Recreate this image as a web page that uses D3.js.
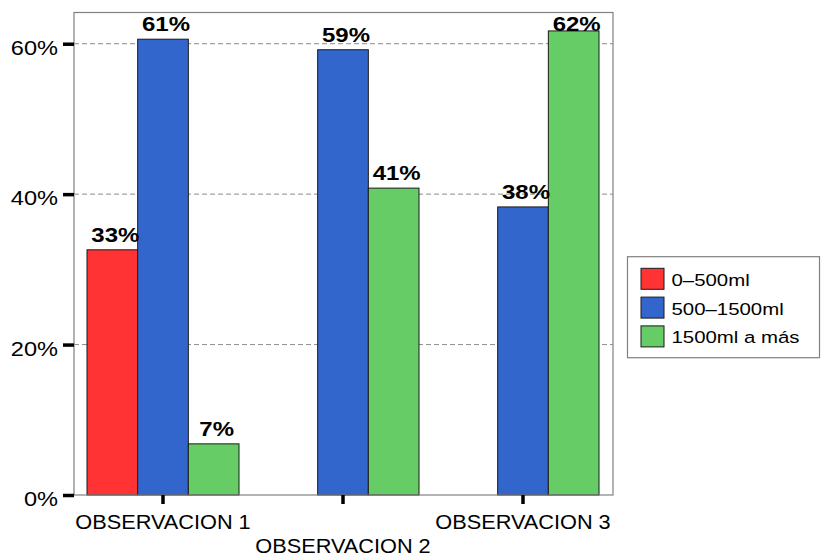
<!DOCTYPE html>
<html>
<head>
<meta charset="utf-8">
<script src="https://cdn.jsdelivr.net/npm/d3@7"></script>
<style>
  html, body { margin: 0; padding: 0; background: #fff; }
  svg { display: block; font-family: "Liberation Sans", Arial, sans-serif; }
</style>
</head>
<body>
<svg id="chart" width="821" height="555"></svg>
<script>
// Observation groups along the x axis
const categories = ["OBSERVACION 1", "OBSERVACION 2", "OBSERVACION 3"];
// Volume ranges (one bar per range in each group)
const seriesNames = ["0–500ml", "500–1500ml", "1500ml a más"];
const seriesColors = ["#FF3333", "#3366CC", "#66CC66"];
// Share of cases per range (null = no bar)
const values0to500 = [0.326, null, null];
const values500to1500 = [0.606, 0.592, 0.383];
const values1500plus = [0.068, 0.408, 0.617];
const seriesValues = [values0to500, values500to1500, values1500plus];
// Y axis ticks
const yTicks = [0, 0.2, 0.4, 0.6];

const svg = d3.select("#chart");
const frame = { left: 74, right: 613, top: 12.5, bottom: 495 };

const x0 = d3.scaleBand().domain(categories).range([frame.left - 1, frame.right]).padding(0);
const x1 = d3.scaleBand().domain(seriesNames).range([14, 166]).padding(0);
const y = d3.scaleLinear().domain([0, 0.6415]).range([frame.bottom, frame.top]);
const pct = d3.format(".0%");

// Dashed gridlines
svg.append("g")
  .selectAll("line")
  .data(yTicks.filter(d => d > 0))
  .join("line")
  .attr("x1", frame.left).attr("x2", frame.right)
  .attr("y1", d => y(d)).attr("y2", d => y(d))
  .attr("stroke", "#8c8c8c")
  .attr("stroke-width", 1)
  .attr("stroke-dasharray", "5,3");

// Bars
const bars = [];
seriesNames.forEach((s, si) => {
  categories.forEach((c, ci) => {
    const v = seriesValues[si][ci];
    if (v != null) bars.push({ series: s, cat: c, value: v, color: seriesColors[si] });
  });
});

svg.append("g")
  .selectAll("rect")
  .data(bars)
  .join("rect")
  .attr("x", d => x0(d.cat) + x1(d.series))
  .attr("y", d => y(d.value))
  .attr("width", x1.bandwidth())
  .attr("height", d => y(0) - y(d.value))
  .attr("fill", d => d.color)
  .attr("stroke", "#1a1a1a")
  .attr("stroke-width", 1);

// Plot frame
svg.append("rect")
  .attr("x", frame.left).attr("y", frame.top)
  .attr("width", frame.right - frame.left)
  .attr("height", frame.bottom - frame.top)
  .attr("fill", "none")
  .attr("stroke", "#808080")
  .attr("stroke-width", 1.2);

// Value labels above bars (kept inside the frame)
const capH = 14.3;
svg.append("g")
  .selectAll("text")
  .data(bars)
  .join("text")
  .attr("transform", d => {
    const cx = x0(d.cat) + x1(d.series) + x1.bandwidth() / 2 + 3;
    const by = Math.max(y(d.value) - 8, frame.top + capH + 4);
    return `translate(${cx},${by}) scale(1.17,1)`;
  })
  .attr("text-anchor", "middle")
  .attr("font-size", 20.5)
  .attr("font-weight", "bold")
  .attr("fill", "#000")
  .text(d => pct(d.value));

// Y axis
const yAxis = svg.append("g")
  .attr("transform", `translate(${frame.left},0)`)
  .call(d3.axisLeft(y).tickValues(yTicks).tickFormat(pct).tickSize(11).tickPadding(0));
yAxis.select(".domain").remove();
yAxis.selectAll(".tick line").attr("stroke", "#000").attr("stroke-width", 3.5);
yAxis.selectAll(".tick text")
  .attr("x", null).attr("dy", null)
  .attr("transform", "translate(-16,10.6) scale(1.15,1)")
  .attr("font-size", 20.5)
  .attr("font-family", "Liberation Sans, Arial, sans-serif")
  .attr("fill", "#000");

// X axis
const xAxis = svg.append("g")
  .attr("transform", `translate(0,${frame.bottom})`)
  .call(d3.axisBottom(x0).tickSize(9).tickPadding(0));
xAxis.select(".domain").remove();
xAxis.selectAll(".tick line").attr("stroke", "#000").attr("stroke-width", 3.5);
xAxis.selectAll(".tick text")
  .attr("y", null).attr("dy", null)
  .attr("transform", (d, i) => `translate(0,${i % 2 === 0 ? 34 : 58}) scale(1.06,1)`)
  .attr("font-size", 20.5)
  .attr("font-family", "Liberation Sans, Arial, sans-serif")
  .attr("fill", "#000");

// Legend
const legend = svg.append("g");
legend.append("rect")
  .attr("x", 627.5).attr("y", 256.7)
  .attr("width", 192).attr("height", 101)
  .attr("fill", "#fff")
  .attr("stroke", "#808080")
  .attr("stroke-width", 1.2);

const items = legend.selectAll("g.item")
  .data(seriesNames)
  .join("g")
  .attr("class", "item")
  .attr("transform", (d, i) => `translate(641,${268.3 + i * 28.8})`);
items.append("rect")
  .attr("width", 23).attr("height", 21)
  .attr("fill", (d, i) => seriesColors[i])
  .attr("stroke", "#1a1a1a")
  .attr("stroke-width", 1);
items.append("text")
  .attr("transform", "translate(30.5,17.4) scale(1.2,1)")
  .attr("font-size", 17)
  .attr("fill", "#000")
  .text(d => d);
</script>
</body>
</html>
